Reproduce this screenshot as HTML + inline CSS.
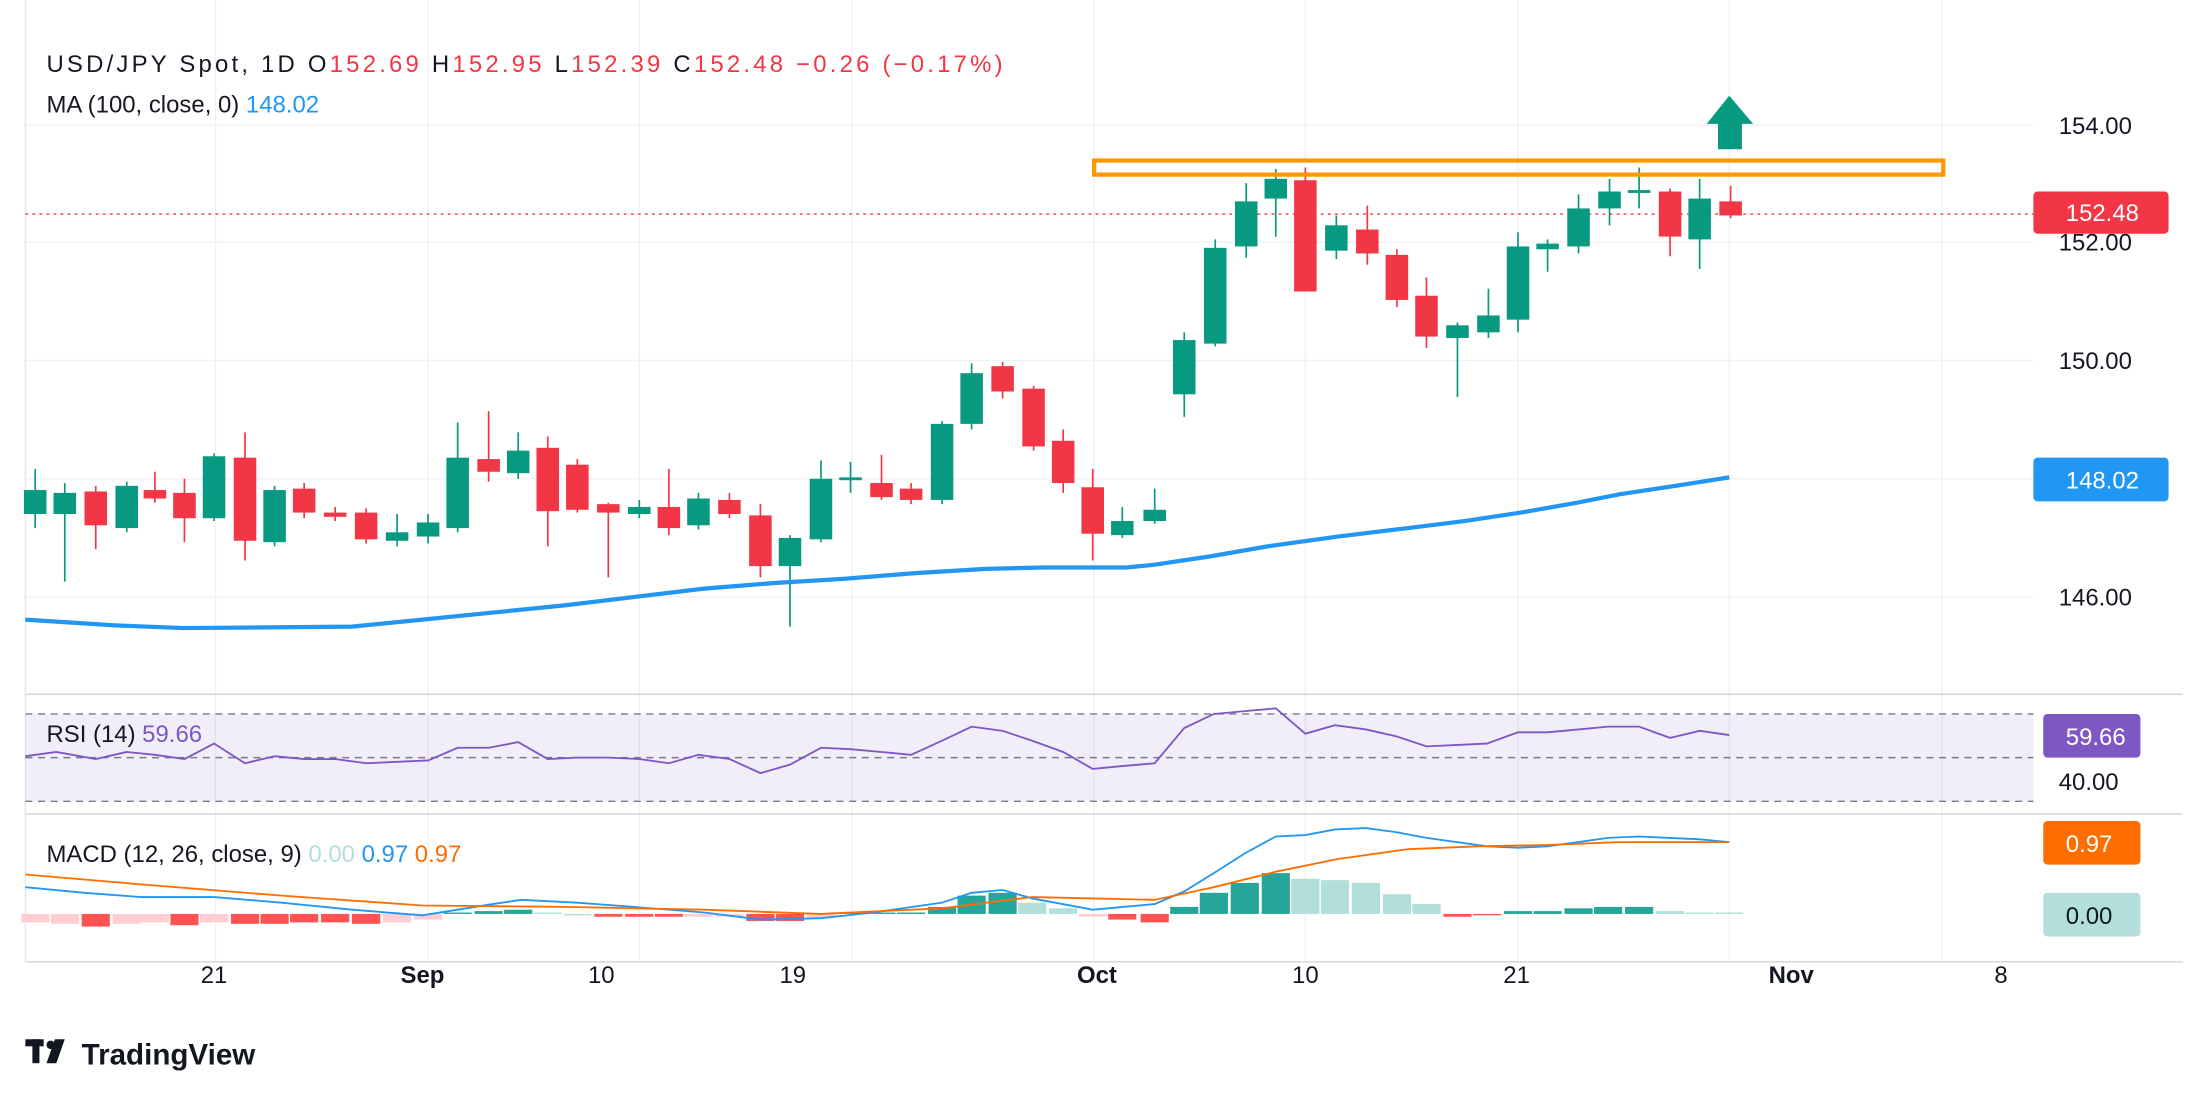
<!DOCTYPE html>
<html><head><meta charset="utf-8"><style>
html,body{margin:0;padding:0;background:#fff;}
svg{display:block;font-family:"Liberation Sans",sans-serif;}
</style></head><body>
<svg id="s" width="2208" height="1097" viewBox="0 0 1568 779" preserveAspectRatio="none" xmlns="http://www.w3.org/2000/svg">
<rect width="1568" height="779" fill="#fff"/>
<g id="grid" stroke="#f0f1f3" stroke-width="1"></g>
<line x1="18" y1="493" x2="1550" y2="493" stroke="#d1d4dc"/>
<line x1="18" y1="578" x2="1550" y2="578" stroke="#d1d4dc"/>
<line x1="18" y1="683" x2="1550" y2="683" stroke="#d1d4dc"/>
<line x1="18" y1="0" x2="18" y2="683" stroke="#e6e8ee"/>
<rect x="18" y="507" width="1426" height="62" fill="#7e57c2" fill-opacity="0.1"/>
<g stroke="#787b86" stroke-dasharray="5,4" stroke-width="1">
<line x1="18" y1="507" x2="1444" y2="507"/><line x1="18" y1="538" x2="1444" y2="538"/><line x1="18" y1="569" x2="1444" y2="569"/>
</g>
<line x1="18" y1="152" x2="1444" y2="152" stroke="#f23645" stroke-dasharray="2,3" stroke-width="1"/>
<g id="hist"></g>
<g id="candles"></g>
<polyline id="ma" fill="none" stroke="#2196f3" stroke-width="3"/>
<polyline id="rsi" fill="none" stroke="#7e57c2" stroke-width="1.3"/>
<polyline id="macd" fill="none" stroke="#2196f3" stroke-width="1.3"/>
<polyline id="sig" fill="none" stroke="#ff6d00" stroke-width="1.3"/>
<rect x="777" y="114" width="603" height="10" fill="none" stroke="#ff9800" stroke-width="3"/>
<polygon points="1228,68 1245,88 1237,88 1237,106 1220,106 1220,88 1212,88" fill="#089981"/>
<text x="33" y="51" font-size="17" fill="#131722" textLength="679" lengthAdjust="spacing">USD/JPY Spot, 1D  O<tspan fill="#f23645">152.69</tspan>  H<tspan fill="#f23645">152.95</tspan>  L<tspan fill="#f23645">152.39</tspan>  C<tspan fill="#f23645">152.48  −0.26 (−0.17%)</tspan></text>
<text x="33" y="80" font-size="17" fill="#131722">MA (100, close, 0) <tspan fill="#2196f3">148.02</tspan></text>
<text x="33" y="527" font-size="17" fill="#131722">RSI (14) <tspan fill="#7e57c2">59.66</tspan></text>
<text x="33" y="612" font-size="17" fill="#131722">MACD (12, 26, close, 9) <tspan fill="#b2dfdb">0.00</tspan> <tspan fill="#2196f3">0.97</tspan> <tspan fill="#ff6d00">0.97</tspan></text>
<g font-size="17" fill="#131722">
<text x="1462" y="95">154.00</text><text x="1462" y="178">152.00</text><text x="1462" y="262">150.00</text><text x="1462" y="430">146.00</text><text x="1462" y="561">40.00</text>
</g>
<rect x="1444" y="136" width="96" height="30" rx="3" fill="#f23645"/><text x="1467" y="157" font-size="17" fill="#fff">152.48</text>
<rect x="1444" y="325" width="96" height="31" rx="3" fill="#2196f3"/><text x="1467" y="347" font-size="17" fill="#fff">148.02</text>
<rect x="1451" y="507" width="69" height="31" rx="3" fill="#7e57c2"/><text x="1467" y="529" font-size="17" fill="#fff">59.66</text>
<rect x="1451" y="583" width="69" height="31" rx="3" fill="#ff6d00"/><text x="1467" y="605" font-size="17" fill="#fff">0.97</text>
<rect x="1451" y="634" width="69" height="31" rx="3" fill="#b2dfdb"/><text x="1467" y="656" font-size="17" fill="#131722">0.00</text>
<g font-size="17" fill="#131722" text-anchor="middle">
<text x="152" y="698">21</text><text x="300" y="698" font-weight="bold">Sep</text><text x="427" y="698">10</text><text x="563" y="698">19</text><text x="779" y="698" font-weight="bold">Oct</text><text x="927" y="698">10</text><text x="1077" y="698">21</text><text x="1272" y="698" font-weight="bold">Nov</text><text x="1421" y="698">8</text>
</g>
<g fill="#131722"><rect x="18" y="738" width="13" height="5"/><rect x="23" y="738" width="5" height="17"/><circle cx="36" cy="742" r="3"/><polygon points="39,738 46,738 40,755 33,755"/></g>
<text x="58" y="756" font-size="21" font-weight="bold" fill="#131722">TradingView</text>
<script>
var N="http://www.w3.org/2000/svg",s=document.getElementById('s');
function el(p,t,a){var e=document.createElementNS(N,t);for(var k in a)e.setAttribute(k,a[k]);p.appendChild(e);return e;}
var g=document.getElementById('grid');
[89,172,256,340,424].forEach(function(y){el(g,'line',{x1:18,x2:1444,y1:y,y2:y});});
[153,304,454,605,777,927,1078,1228,1379].forEach(function(x){el(g,'line',{x1:x,x2:x,y1:0,y2:683});});
var G='#089981',R='#f23645';
var c=[[25,348,365,333,375,G],[46,350,365,343,413,G],[68,349,373,345,390,R],[90,345,375,342,378,G],[110,348,354,335,357,R],[131,350,368,340,385,R],[152,324,368,322,370,G],[174,325,384,307,398,R],[195,348,385,345,388,G],[216,347,364,343,368,R],[238,364,367,360,370,R],[260,364,383,361,386,R],[282,378,384,365,388,G],[304,371,381,365,386,G],[325,325,375,300,378,G],[347,326,335,292,342,R],[368,320,336,307,340,G],[389,318,363,310,388,R],[410,330,362,326,364,R],[432,358,364,357,410,R],[454,360,365,355,368,G],[475,360,375,333,380,R],[496,354,373,350,376,G],[518,355,365,350,368,R],[540,366,402,358,410,R],[561,382,402,380,445,G],[583,340,383,327,385,G],[604,339,341,328,350,G],[626,343,353,323,355,R],[647,347,355,343,358,R],[669,301,355,299,358,G],[690,265,301,258,305,G],[712,260,278,257,283,R],[734,276,317,274,320,R],[755,313,343,305,350,R],[776,346,379,333,398,R],[797,370,380,360,382,G],[820,362,370,347,372,G],
[841,241.5,280,236,296,G],[863,176,244,170,246,G],[885,143,175,130,183,G],[906,127,141,120,168,G],[927,128,207,119,207,R],[949,160,178,153,184,G],[971,163,180,146,188,R],[992,181,213,177,218,R],[1013,210,239,197,247,R],[1035,231,240,229,282,G],[1057,224,236,205,240,G],[1078,175,227,165,236,G],[1099,173,177,170,193,G],[1121,148,175,138,180,G],[1143,136,148,127,160,G],[1164,135,137,119,148,G],[1186,136,168,134,182,R],[1207,141,170,127,191,G],[1229,143,153,132,155,R]];
var cg=document.getElementById('candles');
c.forEach(function(d){el(cg,'line',{x1:d[0],x2:d[0],y1:d[3],y2:d[4],stroke:d[5],'stroke-width':1.2});el(cg,'rect',{x:d[0]-8,y:d[1],width:16,height:Math.max(1.5,d[2]-d[1]),fill:d[5]});});
function pts(a){return a.map(function(p){return p.join(',');}).join(' ');}
document.getElementById('ma').setAttribute('points',pts([[18,440],[80,444],[130,446],[250,445],[300,440],[350,435],[400,430],[450,424],[500,418],[550,414],[600,411],[650,407],[700,404],[740,403],[800,403],[820,401],[860,395],[900,388],[950,381],[1000,375],[1040,370],[1080,364],[1120,357],[1150,351],[1190,345],[1228,339]]));
var rx=[18,40,68,90,110,131,152,174,195,216,238,260,282,304,325,347,368,389,410,432,454,475,496,518,540,561,583,604,626,647,669,690,712,733,755,776,797,820,841,862,884,906,927,948,970,992,1013,1035,1056,1078,1099,1121,1142,1164,1186,1207,1228];
var ry=[537,534,539,534,536,539,528,542,537,539,539,542,541,540,531,531,527,539,538,538,539,542,536,539,549,543,531,532,534,536,526,516,519,526,534,546,544,542,517,507,505,503,521,515,518,523,530,529,528,520,520,518,516,516,524,519,522];
document.getElementById('rsi').setAttribute('points',pts(rx.map(function(x,i){return [x,ry[i]];})));
document.getElementById('macd').setAttribute('points',pts([[18,630],[60,634],[100,637],[152,637],[200,641],[250,646],[300,650],[350,642],[370,639],[410,641],[450,644],[500,648],[540,653],[583,652],[620,648],[669,641],[690,634],[712,632],[733,638],[776,646],[820,642],[841,633],[862,620],[884,606],[906,594],[927,593],[948,589],[970,588],[992,591],[1013,595],[1056,601],[1078,602],[1099,601],[1142,595],[1164,594],[1207,596],[1228,598]]));
document.getElementById('sig').setAttribute('points',pts([[18,621],[100,628],[200,636],[300,643],[400,644],[500,646],[583,649],[669,645],[733,637],[776,638],[820,639],[862,630],[906,619],[950,610],[1000,603],[1050,601],[1100,600],[1150,598],[1228,598]]));
var Z=649,DG='#26a69a',LG='#b2dfdb',DR='#ff5252',LR='#ffcdd2';
var h=[[25,655,LR],[46,656,LR],[68,658,DR],[90,656,LR],[110,655,LR],[131,657,DR],[152,655,LR],[174,656,DR],[195,656,DR],[216,655,DR],[238,655,DR],[260,656,DR],[282,655,LR],[304,653,LR],[325,648,DG],[347,647,DG],[368,646,DG],[389,648,LG],[410,649,LG],[432,651,DR],[454,651,DR],[475,651,DR],[496,651,LR],[518,651,LR],[540,654,DR],[561,654,DR],[583,652,LR],[604,648,DG],[626,648,DG],[647,648,DG],[669,644,DG],[690,636,DG],[712,634,DG],[733,641,LG],[755,645,LG],[776,651,LR],[797,653,DR],[820,655,DR],[841,644,DG],[862,634,DG],[884,627,DG],[906,620,DG],[927,624,LG],[948,625,LG],[970,627,LG],[992,635,LG],[1013,642,LG],[1035,651,DR],[1056,650,DR],[1078,647,DG],[1099,647,DG],[1121,645,DG],[1142,644,DG],[1164,644,DG],[1186,647,LG],[1207,648,LG],[1228,648,LG]];
var hg=document.getElementById('hist');
h.forEach(function(d){var y=Math.min(d[1],Z),hh=Math.max(1,Math.abs(d[1]-Z));el(hg,'rect',{x:d[0]-10,y:y,width:20,height:hh,fill:d[2]});});
</script>
</svg>
</body></html>
